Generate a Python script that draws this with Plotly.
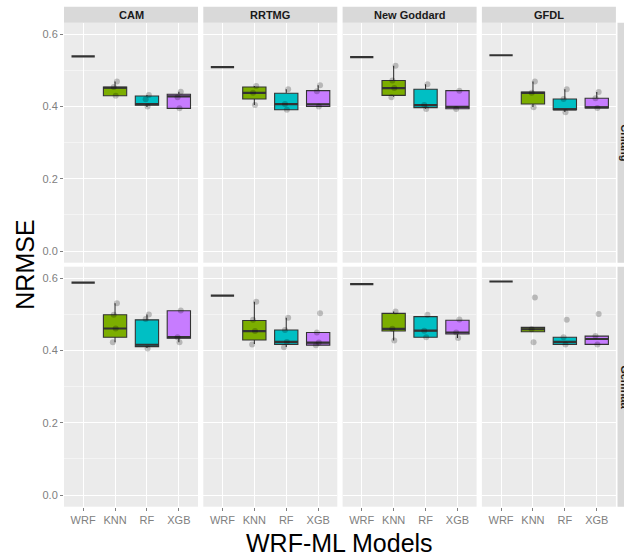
import plotly.graph_objects as go

# ---- data -----------------------------------------------------------------
MODELS = ["WRF", "KNN", "RF", "XGB"]
SCHEMES = ["CAM", "RRTMG", "New Goddard", "GFDL"]
SITES = ["Chiang", "Gemnaa"]
Y_TICKS = [0.0, 0.2, 0.4, 0.6]
Y_TICK_TEXT = ["0.0", "0.2", "0.4", "0.6"]

# box statistics, indexed [site][scheme][model]
LOWER = [
    [[0.539, 0.430, 0.399, 0.395], [0.509, 0.404, 0.391, 0.400],
     [0.537, 0.427, 0.394, 0.393], [0.542, 0.399, 0.385, 0.396]],
    [[0.588, 0.423, 0.407, 0.423], [0.552, 0.418, 0.410, 0.414],
     [0.584, 0.428, 0.437, 0.435], [0.591, 0.452, 0.417, 0.417]],
]
Q1 = [
    [[0.539, 0.430, 0.404, 0.395], [0.509, 0.421, 0.391, 0.400],
     [0.537, 0.431, 0.397, 0.394], [0.542, 0.407, 0.391, 0.396]],
    [[0.588, 0.437, 0.411, 0.434], [0.552, 0.429, 0.417, 0.415],
     [0.584, 0.454, 0.437, 0.446], [0.591, 0.452, 0.417, 0.417]],
]
MEDIAN = [
    [[0.539, 0.452, 0.407, 0.428], [0.509, 0.438, 0.407, 0.406],
     [0.537, 0.451, 0.404, 0.399], [0.542, 0.438, 0.392, 0.398]],
    [[0.588, 0.461, 0.416, 0.437], [0.552, 0.454, 0.424, 0.422],
     [0.584, 0.460, 0.455, 0.450], [0.591, 0.459, 0.424, 0.432]],
]
Q3 = [
    [[0.539, 0.454, 0.429, 0.434], [0.509, 0.454, 0.437, 0.444],
     [0.537, 0.472, 0.448, 0.444], [0.542, 0.440, 0.421, 0.423]],
    [[0.588, 0.499, 0.485, 0.510], [0.552, 0.483, 0.457, 0.450],
     [0.584, 0.503, 0.494, 0.484], [0.591, 0.464, 0.437, 0.440]],
]
UPPER = [
    [[0.539, 0.469, 0.432, 0.441], [0.509, 0.457, 0.448, 0.459],
     [0.537, 0.513, 0.462, 0.444], [0.542, 0.469, 0.448, 0.440]],
    [[0.588, 0.531, 0.500, 0.510], [0.552, 0.535, 0.491, 0.450],
     [0.584, 0.508, 0.494, 0.484], [0.591, 0.464, 0.437, 0.440]],
]
# individual runs shown as points, indexed [site][scheme][model]
POINTS = [
    [[[], [0.469, 0.454, 0.430], [0.432, 0.420, 0.400], [0.441, 0.426, 0.395]],
     [[], [0.457, 0.438, 0.404], [0.448, 0.407, 0.391], [0.459, 0.442, 0.400]],
     [[], [0.513, 0.472, 0.451, 0.426], [0.462, 0.404, 0.393], [0.444, 0.393]],
     [[], [0.469, 0.438, 0.398], [0.448, 0.421, 0.384], [0.440, 0.423, 0.396]]],
    [[[], [0.531, 0.499, 0.461, 0.423], [0.500, 0.487, 0.406], [0.511, 0.437, 0.423]],
     [[], [0.535, 0.485, 0.454, 0.417], [0.491, 0.457, 0.424, 0.409], [0.503, 0.450, 0.422, 0.415]],
     [[], [0.508, 0.460, 0.428], [0.499, 0.455, 0.437], [0.486, 0.450, 0.435]],
     [[], [0.547, 0.459, 0.423], [0.485, 0.437, 0.417], [0.501, 0.440, 0.417]]],
]
JITTER = [0.06, -0.04, 0.02, -0.07]

# ---- styling ----------------------------------------------------------------
FILL = ["#F8766D", "#7CAE00", "#00BFC4", "#C77CFF"]
FONT = "Liberation Sans, Arial, sans-serif"
W, H = 624, 557
COL_X0 = [64.0, 203.3, 342.6, 481.9]
COL_W = 134.0
ROW_Y0 = [22.7, 266.7]
ROW_H = 240.0
STRIP = 16.0


def fx(px):
    return px / W


def fy(py):
    return 1 - py / H


fig = go.Figure()
layout = {}

for r in range(2):
    for c in range(4):
        k = r * 4 + c + 1
        xa, ya = f"x{k}", f"y{k}"
        for m in range(4):
            if m > 0:
                fig.add_trace(go.Box(
                    x=[m + 1], q1=[Q1[r][c][m]], median=[MEDIAN[r][c][m]],
                    q3=[Q3[r][c][m]], lowerfence=[LOWER[r][c][m]],
                    upperfence=[UPPER[r][c][m]], width=0.73,
                    fillcolor=FILL[m], line=dict(color="#333333", width=1.1),
                    whiskerwidth=0, boxpoints=False, hoverinfo="skip",
                    xaxis=xa, yaxis=ya))
            # thicker median bar
            med = MEDIAN[r][c][m]
            fig.add_trace(go.Box(
                x=[m + 1], q1=[med], median=[med], q3=[med],
                lowerfence=[med], upperfence=[med], width=0.73,
                fillcolor="rgba(0,0,0,0)", line=dict(color="#333333", width=2.2),
                whiskerwidth=0, boxpoints=False, hoverinfo="skip",
                xaxis=xa, yaxis=ya))
            pts = POINTS[r][c][m]
            if pts:
                fig.add_trace(go.Scatter(
                    x=[m + 1 + JITTER[i % len(JITTER)] for i in range(len(pts))],
                    y=pts, mode="markers",
                    marker=dict(size=6, color="rgba(0,0,0,0.22)", line=dict(width=0)),
                    hoverinfo="skip", xaxis=xa, yaxis=ya))

        x0 = COL_X0[c]
        y0 = ROW_Y0[r]
        sfx = "" if k == 1 else str(k)
        layout["xaxis" + sfx] = dict(
            domain=[fx(x0), fx(x0 + COL_W)], anchor=ya, range=[0.4, 4.6],
            tickvals=[1, 2, 3, 4], ticktext=MODELS,
            showticklabels=(r == 1), ticks="outside" if r == 1 else "",
            ticklen=3, tickcolor="#7F7F7F", tickwidth=1,
            tickfont=dict(family=FONT, size=11, color="#808080"),
            showgrid=True, gridcolor="#FFFFFF", gridwidth=1.1,
            zeroline=False, showline=False, fixedrange=True)
        layout["yaxis" + sfx] = dict(
            domain=[fy(y0 + ROW_H), fy(y0)], anchor=xa, range=[-0.032, 0.632],
            tickvals=Y_TICKS, ticktext=Y_TICK_TEXT,
            showticklabels=(c == 0), ticks="outside" if c == 0 else "",
            ticklen=3, tickcolor="#7F7F7F", tickwidth=1,
            tickfont=dict(family=FONT, size=11, color="#808080"),
            showgrid=True, gridcolor="#FFFFFF", gridwidth=1.1,
            minor=dict(tickvals=[0.1, 0.3, 0.5], showgrid=True,
                       gridcolor="#F4F4F4", gridwidth=0.6, ticks=""),
            zeroline=False, showline=False, fixedrange=True)

shapes = []
annotations = []
# column strips with scheme names
for c, name in enumerate(SCHEMES):
    x0 = COL_X0[c]
    shapes.append(dict(type="rect", xref="paper", yref="paper",
                       x0=fx(x0), x1=fx(x0 + COL_W),
                       y0=fy(ROW_Y0[0]), y1=fy(ROW_Y0[0] - STRIP),
                       fillcolor="#D9D9D9", line=dict(width=0), layer="below"))
    annotations.append(dict(text=f"<b>{name}</b>", xref="paper", yref="paper",
                            x=fx(x0 + COL_W / 2), y=fy(ROW_Y0[0] - STRIP / 2),
                            showarrow=False, xanchor="center", yanchor="middle",
                            font=dict(family=FONT, size=11, color="#1A1A1A")))
# row strips with site names
for r, name in enumerate(SITES):
    sx0 = COL_X0[3] + COL_W + 1.6
    shapes.append(dict(type="rect", xref="paper", yref="paper",
                       x0=fx(sx0), x1=fx(sx0 + STRIP),
                       y0=fy(ROW_Y0[r] + ROW_H), y1=fy(ROW_Y0[r]),
                       fillcolor="#D9D9D9", line=dict(width=0), layer="below"))
    annotations.append(dict(text=f"<b>{name}</b>", xref="paper", yref="paper",
                            x=fx(sx0 + STRIP / 2), y=fy(ROW_Y0[r] + ROW_H / 2),
                            showarrow=False, textangle=90,
                            xanchor="center", yanchor="middle",
                            font=dict(family=FONT, size=11, color="#1A1A1A")))

annotations.append(dict(text="WRF-ML Models", xref="paper", yref="paper",
                        x=fx(COL_X0[0] + (COL_X0[3] + COL_W - COL_X0[0]) / 2),
                        y=fy(543), showarrow=False, xanchor="center", yanchor="middle",
                        font=dict(family=FONT, size=25, color="#000000")))
annotations.append(dict(text="NRMSE", xref="paper", yref="paper",
                        x=fx(25), y=fy(ROW_Y0[0] + (ROW_Y0[1] + ROW_H - ROW_Y0[0]) / 2),
                        showarrow=False, textangle=-90,
                        xanchor="center", yanchor="middle",
                        font=dict(family=FONT, size=25, color="#000000")))

fig.update_layout(
    width=W, height=H, margin=dict(l=0, r=0, t=0, b=0),
    paper_bgcolor="#FFFFFF", plot_bgcolor="#EBEBEB",
    showlegend=False, boxmode="overlay",
    shapes=shapes, annotations=annotations, **layout)

fig.write_html("out.html")
